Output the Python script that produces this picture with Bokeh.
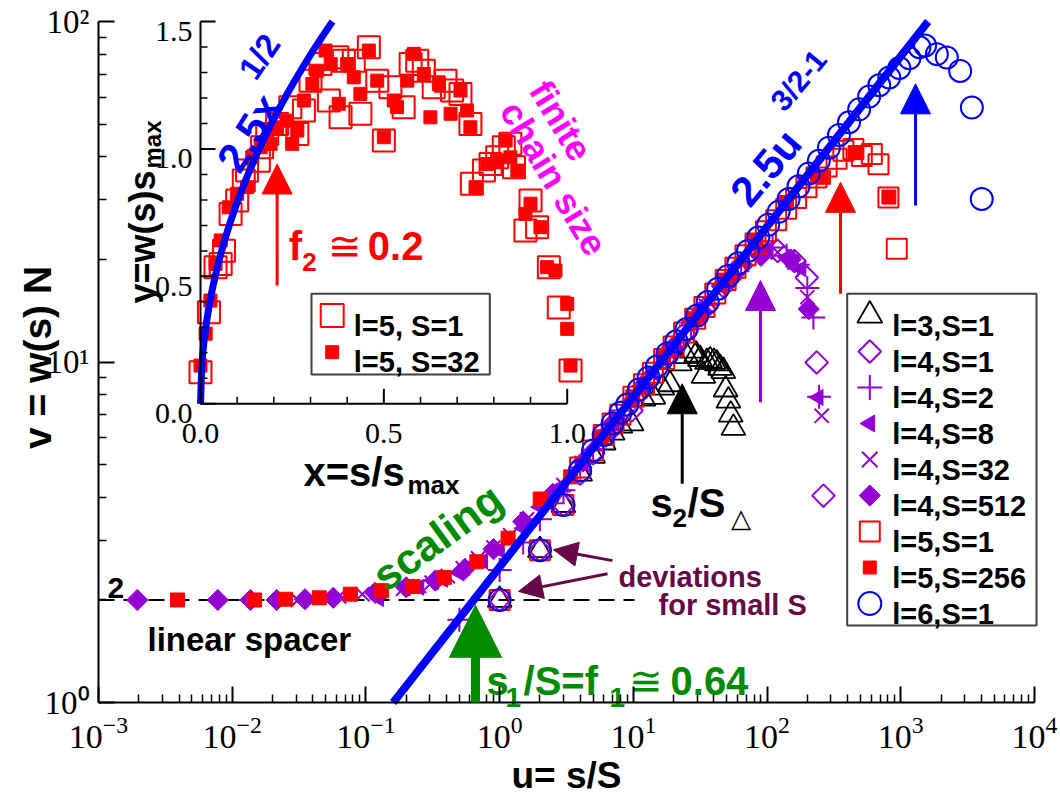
import numpy as np
from bokeh.plotting import figure
from bokeh.models import (Range1d, LinearScale, FixedTicker, Arrow, NormalHead)
from bokeh.core.properties import value
from bokeh.embed import file_html
from bokeh.resources import INLINE

# ---------------- main panel data: u = s/S , v = w(s) N ----------------
l3_s1_u = [1, 2, 3, 4, 5, 6, 7, 8, 9.7, 11.9, 14.1, 16.5, 18.8, 22.3, 25.0, 27.3, 29.5, 31.5, 33.4, 35.5,
           37.5, 40.0, 42.0, 44.5, 47.1, 49.0, 51.4, 53.5, 56.0]
l3_s1_v = [2.0, 2.8, 3.8, 4.7, 5.3, 5.8, 6.2, 6.5, 6.6, 7.8, 7.9, 8.4, 8.6, 9.9, 10.4, 10.8, 10.5, 10.2, 9.1, 10.0,
           10.1, 10.0, 9.9, 9.6, 9.4, 8.3, 7.7, 7.0, 6.4]

l4_s1_u = [1, 2, 3, 4, 5, 7, 9.7, 13, 18, 25, 34, 47, 64, 88, 120, 160, 198, 235, 264]
l4_s1_v = [2.0, 2.8, 3.8, 4.7, 5.4, 6.4, 7.2, 8.8, 10.4, 12.3, 14.3, 16.7, 19.2, 21.0, 21.2, 19.8, 17.7, 9.97, 4.05]

l4_s2_u = [0.5, 1.0, 1.5, 2.0, 2.5, 3.0, 4.0, 5.0, 6.5, 8.5, 11, 15, 20, 27, 36, 48, 64, 85, 110, 140,
           170, 200, 222, 245]
l4_s2_v = [1.75, 2.45, 2.95, 3.45, 3.85, 4.2, 4.9, 5.5, 6.3, 7.2, 8.2, 9.6, 11.1, 12.8, 14.7, 16.9, 19.3, 21.3, 21.7, 20.5,
           19.3, 16.5, 13.5, 7.9]

l4_s8_u = [0.125, 0.25, 0.375, 0.5, 0.75, 1.0, 1.5, 2.0, 3.0, 4.4, 6.5, 9.6, 14, 21, 31, 46, 68, 100, 140, 180, 242]
l4_s8_v = [2.02, 2.18, 2.3, 2.4, 2.6, 2.8, 3.25, 3.75, 4.35, 5.2, 6.3, 7.7, 9.3, 11.3, 13.7, 16.6, 19.8, 21.3, 20.3, 18.8, 7.87]

l4_s32_u = [0.031, 0.063, 0.094, 0.125, 0.19, 0.25, 0.31, 0.41, 0.53, 0.69, 0.9, 1.2, 1.6, 2.2, 3.0, 4.1, 5.6, 7.6, 10.3, 14,
            19, 26, 35, 48, 65, 88, 120, 160, 200, 256]
l4_s32_v = [2.0, 2.05, 2.08, 2.11, 2.16, 2.2, 2.25, 2.35, 2.48, 2.65, 2.85, 3.1, 3.45, 3.85, 4.35, 5.05, 5.9, 6.9, 8.0, 9.35,
            10.9, 12.7, 14.6, 16.9, 19.3, 21.2, 21.0, 19.6, 15.5, 6.95]

l4_s512_u = [0.00195, 0.0078, 0.0137, 0.0215, 0.035, 0.057, 0.117, 0.2, 0.33, 0.55, 0.9, 1.5, 2.5, 4.2, 7.0, 11.7,
             19.5, 32.5, 54, 90, 150, 205]
l4_s512_v = [2.0, 2.0, 2.0, 2.0, 2.01, 2.03, 2.1, 2.18, 2.28, 2.47, 2.82, 3.4, 4.1, 5.1, 6.6, 8.5,
             11.0, 14.1, 17.6, 20.5, 20.0, 14.3]

l5_s1_u = [1, 2, 3, 4, 5, 6, 7, 8, 10, 12, 14, 17, 20, 24, 29, 34, 41, 49, 58, 69,
           82, 98, 117, 139, 165, 197, 234, 279, 331, 372, 442, 511, 607, 681, 808, 933]
l5_s1_v = [2.0, 2.8, 3.8, 4.9, 5.5, 6.1, 6.6, 7.0, 7.9, 8.6, 9.3, 10.2, 11.1, 12.2, 13.4, 14.5, 15.9, 17.4, 18.9, 20.6,
           22.3, 24.2, 26.1, 28.2, 30.3, 32.6, 34.8, 37.5, 39.5, 41.7, 42.2, 40.3, 40.8, 38.1, 30.4, 21.5]

l5_s256_u = [0.0039, 0.0147, 0.0251, 0.0448, 0.0766, 0.131, 0.225, 0.385, 0.675, 1.156, 2.01, 3.4, 5.8, 9.9,
             16.8, 28.6, 48.6, 82.6, 140, 238, 264, 455, 815]
l5_s256_v = [2.0, 2.0, 2.01, 2.03, 2.08, 2.13, 2.19, 2.33, 2.59, 3.04, 3.96, 4.6, 6.0, 7.9,
             10.3, 13.4, 17.4, 22.6, 29.4, 35.0, 34.9, 41.2, 30.5]

l6_s1_u = [1, 2, 3, 4, 5, 6, 7, 8, 9, 11, 13, 15, 18, 21, 25, 30, 36, 43, 51, 61, 72, 86, 102, 122, 145, 172,
           205, 244, 290, 345, 410, 488, 580, 690, 820, 975, 1160, 1380, 1520, 1860, 2210, 2780, 3400, 4030]
l6_s1_v = [2.0, 2.8, 3.8, 4.8, 5.5, 6.1, 6.6, 7.1, 7.5, 8.3, 9.0, 9.7, 10.6, 11.5, 12.5, 13.7, 15.0, 16.4, 17.9,
           19.5, 21.2, 23.2, 25.3, 27.6, 30.1, 32.8, 35.8, 39.0, 42.6, 46.4, 50.6, 55.2, 60.2, 65.0, 68.5, 73.0,
           78.0, 84.0, 85.0, 80.2, 78.4, 71.6, 55.9, 30.1]

# ---------------- inset data: x = s/s_max , y = w(s) s_max ----------------
inset_l5_s1 = [(0.0, 0.124), (0.023, 0.359), (0.041, 0.536), (0.055, 0.549), (0.064, 0.601), (0.082, 0.745),
               (0.100, 0.798), (0.118, 0.876), (0.127, 0.915), (0.159, 0.954), (0.168, 1.007), (0.182, 1.059),
               (0.209, 1.098), (0.245, 1.164), (0.264, 1.059), (0.282, 1.151), (0.300, 1.268), (0.327, 1.333),
               (0.350, 1.190), (0.373, 1.360), (0.382, 1.124), (0.391, 1.346), (0.418, 1.346), (0.436, 1.138),
               (0.459, 1.399), (0.482, 1.268), (0.500, 1.033), (0.518, 1.242), (0.554, 1.164), (0.573, 1.333),
               (0.591, 1.346), (0.609, 1.307), (0.636, 1.242), (0.668, 1.268), (0.686, 1.229), (0.709, 1.216),
               (0.736, 1.098), (0.740, 0.863), (0.773, 0.915), (0.791, 0.941), (0.809, 0.967), (0.827, 1.007),
               (0.845, 1.020), (0.855, 0.928), (0.886, 0.680), (0.900, 0.798), (0.918, 0.693), (0.950, 0.536),
               (0.977, 0.378), (1.009, 0.131)]
inset_l5_s32 = [(0.0, 0.150), (0.014, 0.275), (0.027, 0.405), (0.041, 0.549), (0.055, 0.641), (0.077, 0.771),
                (0.100, 0.824), (0.127, 0.850), (0.141, 0.967), (0.164, 1.007), (0.191, 1.020), (0.209, 1.085),
                (0.236, 1.111), (0.250, 1.020), (0.264, 1.072), (0.282, 1.190), (0.305, 1.255), (0.318, 1.307),
                (0.341, 1.386), (0.355, 1.333), (0.377, 1.177), (0.400, 1.333), (0.418, 1.281), (0.436, 1.216),
                (0.459, 1.386), (0.482, 1.268), (0.500, 1.046), (0.527, 1.190), (0.536, 1.164), (0.564, 1.268),
                (0.582, 1.373), (0.609, 1.294), (0.627, 1.124), (0.650, 1.255), (0.682, 1.138), (0.709, 1.229),
                (0.727, 1.151), (0.736, 1.085), (0.750, 0.850), (0.782, 0.941), (0.809, 0.954), (0.832, 1.033),
                (0.845, 0.967), (0.864, 0.915), (0.886, 0.745), (0.900, 0.785), (0.927, 0.693), (0.945, 0.536),
                (0.968, 0.523), (1.000, 0.392), (1.000, 0.294), (1.009, 0.150)]
inset_s1_x = [a for a, b in inset_l5_s1]
inset_s1_y = [b for a, b in inset_l5_s1]
inset_s32_x = [a for a, b in inset_l5_s32]
inset_s32_y = [b for a, b in inset_l5_s32]

# ---------------- ticks ----------------
x_bounds = (1e-3, 1e4)
y_bounds = (1.0, 100.0)
x_major = [1e-3, 1e-2, 1e-1, 1.0, 1e1, 1e2, 1e3, 1e4]
x_minor = [k * 10.0 ** e for e in range(-3, 4) for k in range(2, 10)]
y_major = [1.0, 10.0, 100.0]
y_minor = [k * 10.0 ** e for e in range(0, 2) for k in range(2, 10)]
y_major_labels = ["10\u2070", "10\u00b9", "10\u00b2"]
inset_xlim = (0.0, 1.0)
inset_ylim = (0.0, 1.5)
inset_x_major = [0.0, 0.5, 1.0]
inset_x_minor = [0.1, 0.2, 0.3, 0.4, 0.6, 0.7, 0.8, 0.9]
inset_y_major = [0.0, 0.5, 1.0, 1.5]
inset_y_minor = [0.1, 0.2, 0.3, 0.4, 0.6, 0.7, 0.8, 0.9, 1.1, 1.2, 1.3, 1.4]
inset_x_labels = ["0.0", "0.5", "1.0"]
inset_y_labels = ["0.0", "0.5", "1.0", "1.5"]

# fitted power laws shown on the chart: 2.5 u^(1/2) and 2.5 x^(1/2)
fit_amp = 2.5
fit_u = np.logspace(np.log10((y_bounds[0] / fit_amp) ** 2), np.log10((y_bounds[1] / fit_amp) ** 2), 80)
fit_v = fit_amp * np.sqrt(fit_u)
fit_x = np.linspace(0.0, (inset_ylim[1] / fit_amp) ** 2, 120)
fit_y = fit_amp * np.sqrt(fit_x)

# legend entries
main_legend_labels = ["l=3,S=1", "l=4,S=1", "l=4,S=2", "l=4,S=8", "l=4,S=32", "l=4,S=512",
                      "l=5,S=1", "l=5,S=256", "l=6,S=1"]
inset_legend_labels = ["l=5, S=1", "l=5, S=32"]

# ---------------- styling / layout constants ----------------
BLACK = "black"
VIOLET = "#9400d3"
RED = "#ff0000"
BLUE = "#0000ff"
GREEN = "#008b00"
MAGENTA = "#ff00ff"
MAROON = "#670748"
SANS = "Liberation Sans"
SERIF = "Liberation Serif"

W, H = 1060, 792
# axis box inside the canvas (px from canvas left / top)
AX_L, AX_R, AX_T, AX_B = 98.0, 1034.0, 21.0, 702.0
DX = (AX_R - AX_L) / np.log10(x_bounds[1] / x_bounds[0])
DY = (AX_B - AX_T) / np.log10(y_bounds[1] / y_bounds[0])
x_range = Range1d(x_bounds[0] * 10 ** (-AX_L / DX), x_bounds[1] * 10 ** ((W - AX_R) / DX))
y_range = Range1d(y_bounds[0] * 10 ** (-(H - AX_B) / DY), y_bounds[1] * 10 ** (AX_T / DY))

p = figure(width=W, height=H, x_axis_type="log", y_axis_type="log",
           x_range=x_range, y_range=y_range, title=None,
           output_backend="svg", toolbar_location=None, min_border=0,
           min_border_left=0, min_border_right=0, min_border_top=0, min_border_bottom=0,
           background_fill_color="white", border_fill_color="white")
p.grid.visible = False
p.outline_line_color = None

p.xaxis.ticker = FixedTicker(ticks=x_major, minor_ticks=x_minor)
p.yaxis.ticker = FixedTicker(ticks=y_major, minor_ticks=y_minor)
p.xaxis.fixed_location = y_bounds[0]
p.yaxis.fixed_location = x_bounds[0]
p.xaxis.bounds = x_bounds
p.yaxis.bounds = y_bounds
p.yaxis.major_label_overrides = dict(zip(y_major, y_major_labels))
for ax in (p.xaxis[0], p.yaxis[0]):
    ax.axis_line_width = 2
    ax.axis_line_color = BLACK
    ax.major_tick_line_width = 2
    ax.minor_tick_line_width = 1.5
    ax.major_tick_in = 16
    ax.major_tick_out = 0
    ax.minor_tick_in = 8
    ax.minor_tick_out = 0
    ax.major_label_text_font = SERIF
    ax.major_label_text_color = BLACK
p.xaxis.major_label_text_font_size = "34px"
p.yaxis.major_label_text_font_size = "33px"
p.xaxis.major_label_standoff = 14
p.yaxis.major_label_standoff = 9

# inset coordinate system (px positions inside the canvas)
INSET_X0 = 200.0           # px from canvas left to inset x=0
INSET_Y0 = H - 403.3       # px from canvas bottom to inset y=0
INSET_PX_X = 366.7
INSET_PX_Y = (403.3 - 21.0) / 1.5
p.extra_x_ranges = {"ix": Range1d(-INSET_X0 / INSET_PX_X, (W - INSET_X0) / INSET_PX_X),
                    "lx": Range1d(0, W)}
p.extra_y_ranges = {"iy": Range1d(-INSET_Y0 / INSET_PX_Y, (H - INSET_Y0) / INSET_PX_Y),
                    "ly": Range1d(0, H)}
p.extra_x_scales = {"ix": LinearScale(), "lx": LinearScale()}
p.extra_y_scales = {"iy": LinearScale(), "ly": LinearScale()}
IN = dict(x_range_name="ix", y_range_name="iy")
LX = dict(x_range_name="lx", y_range_name="ly")   # canvas-pixel space for the legend boxes

# ---------------- main panel ----------------
SPACER_V = 2.0
SPACER_U = (x_bounds[0], 10.2)
p.line(list(SPACER_U), [SPACER_V, SPACER_V], line_color=BLACK, line_width=2, line_dash="16 9")

main_styles = [
    dict(marker="triangle", size=24, line_color=BLACK, line_width=1.8, fill_color=None),
    dict(marker="square", angle=np.pi / 4, size=16, line_color=VIOLET, line_width=2, fill_color=None),
    dict(marker="cross", size=24, line_color=VIOLET, line_width=2),
    dict(marker="triangle", angle=np.pi / 2, size=16, line_color=VIOLET, fill_color=VIOLET),
    dict(marker="x", size=20, line_color=VIOLET, line_width=2),
    dict(marker="square", angle=np.pi / 4, size=15, line_color=VIOLET, fill_color=VIOLET),
    dict(marker="square", size=20, line_color=RED, line_width=2, fill_color=None),
    dict(marker="square", size=14, line_color=RED, fill_color=RED),
    dict(marker="circle", size=22, line_color=BLUE, line_width=2, fill_color=None),
]
main_series = [(l3_s1_u, l3_s1_v), (l4_s1_u, l4_s1_v), (l4_s2_u, l4_s2_v), (l4_s8_u, l4_s8_v),
               (l4_s32_u, l4_s32_v), (l4_s512_u, l4_s512_v), (l5_s1_u, l5_s1_v), (l5_s256_u, l5_s256_v),
               (l6_s1_u, l6_s1_v)]
for i, ((u, v), st) in enumerate(zip(main_series, main_styles)):
    if i == 8:
        p.line(fit_u, fit_v, line_color=BLUE, line_width=8)
    p.scatter(u, v, **st)

# ---------------- inset ----------------
inset_styles = [dict(marker="square", size=22, line_color=RED, line_width=2, fill_color=None),
                dict(marker="square", size=13, line_color=RED, fill_color=RED)]
p.scatter(inset_s1_x, inset_s1_y, **inset_styles[0], **IN)
p.scatter(inset_s32_x, inset_s32_y, **inset_styles[1], **IN)
p.line(fit_x, fit_y, line_color=BLUE, line_width=7, **IN)

p.segment(x0=[inset_xlim[0], inset_xlim[0]], y0=[inset_ylim[0], inset_ylim[0]],
          x1=[inset_xlim[1], inset_xlim[0]], y1=[inset_ylim[0], inset_ylim[1]],
          line_color=BLACK, line_width=2, **IN)
p.ray(x=inset_x_major, y=[inset_ylim[0]] * len(inset_x_major), length=15, angle=np.pi / 2,
      length_units="screen", line_color=BLACK, line_width=2, **IN)
p.ray(x=inset_x_minor, y=[inset_ylim[0]] * len(inset_x_minor), length=7, angle=np.pi / 2,
      length_units="screen", line_color=BLACK, line_width=1.5, **IN)
p.ray(x=[inset_xlim[0]] * len(inset_y_major), y=inset_y_major, length=15, angle=0,
      length_units="screen", line_color=BLACK, line_width=2, **IN)
p.ray(x=[inset_xlim[0]] * len(inset_y_minor), y=inset_y_minor, length=7, angle=0,
      length_units="screen", line_color=BLACK, line_width=1.5, **IN)
p.text(x=inset_x_major, y=[inset_ylim[0]] * 3, text=inset_x_labels, text_font=value(SERIF),
       text_font_size=value("30px"), text_align="center", text_baseline="alphabetic",
       y_offset=30, text_color=BLACK, **IN)
p.text(x=[inset_xlim[0]] * 4, y=inset_y_major, text=inset_y_labels, text_font=value(SERIF),
       text_font_size=value("30px"), text_align="right", text_baseline="alphabetic",
       x_offset=-8, y_offset=10, text_color=BLACK, **IN)


def note(x, y, s, size, color=BLACK, style="bold", font=SANS, angle_deg=0.0, dx=0, dy=0,
         align="left", rng=None):
    kw = rng or {}
    p.text(x=[x], y=[y], text=[s], text_font=value(font), text_font_size=value(f"{size}px"),
           text_font_style=style, text_color=color, angle=np.deg2rad(angle_deg),
           x_offset=dx, y_offset=dy, text_align=align, text_baseline="alphabetic", **kw)


# main annotations
note(0.001167, 2.162, "2", 30)
note(0.002325, 1.528, "linear spacer", 33)
note(0.1221, 2.282, "scaling", 43, GREEN, angle_deg=36)
note(7.74, 2.344, "deviations", 29, MAROON)
note(15.42, 1.940, "for small S", 29, MAROON)
a_u, a_v = 0.7977, 1.160
note(a_u, a_v, "s", 40, GREEN)
note(a_u, a_v, "1", 28, GREEN, dx=19, dy=17)
note(a_u, a_v, "/S=f", 40, GREEN, dx=37)
note(a_u, a_v, "1", 28, GREEN, dx=123, dy=17)
note(a_u, a_v, "\u2245", 40, GREEN, style="normal", dx=142)
note(a_u, a_v, "0.64", 40, GREEN, dx=184)
b_u, b_v = 13.44, 3.841
note(b_u, b_v, "s", 40)
note(b_u, b_v, "2", 26, dx=22, dy=15)
note(b_u, b_v, "/S", 40, dx=37)
note(b_u, b_v, "\u25b3", 26, style="normal", dx=80, dy=15)
note(61.5, 29.95, "2.5u", 42, BLUE, angle_deg=50)
note(117.7, 56.3, "3/2-1", 30, BLUE, angle_deg=50)

# inset annotations
note(0.0736, 0.927, "2.5x", 42, BLUE, angle_deg=58, rng=IN)
note(0.1254, 1.288, "1/2", 33, BLUE, angle_deg=56, rng=IN)
c_x, c_y = 0.2408, 0.621
note(c_x, c_y, "f", 40, RED, rng=IN)
note(c_x, c_y, "2", 26, RED, dx=13.5, dy=16.7, rng=IN)
note(c_x, c_y, "\u2245", 40, RED, style="normal", dx=39, rng=IN)
note(c_x, c_y, "0.2", 40, RED, dx=79, rng=IN)
note(0.9225, 1.2554, "finite", 36, MAGENTA, angle_deg=-59, rng=IN)
note(0.8427, 1.1742, "chain size", 36, MAGENTA, angle_deg=-59, rng=IN)
d_x, d_y = 0.2809, -0.2695
note(d_x, d_y, "x=s/s", 40, rng=IN)
note(d_x, d_y, "max", 26, dx=104, dy=13, rng=IN)
note(-0.1582, 0.3935, "y=w(s)s", 36, angle_deg=90, rng=IN)
note(-0.1309, 0.9231, "max", 24, angle_deg=90, rng=IN)

# axis titles of the main panel
note(3.162, 0.6104, "u= s/S", 37, align="center")
note(3.50e-4, 10.31, "v = w(s) N", 39, angle_deg=90, align="center")

# ---------------- arrows ----------------
arrows_main = [
    # (u_start, v_start, u_end, v_end, colour, shaft width, head size)
    (23.2, 4.39, 23.2, 8.63, BLACK, 3, 30),
    (89.3, 7.62, 89.3, 17.35, VIOLET, 3, 30),
    (354.0, 15.86, 354.0, 33.7, RED, 3, 30),
    (1289.0, 28.8, 1289.0, 65.6, BLUE, 3, 30),
    (0.66, 1.0, 0.66, 1.93, GREEN, 9, 52),
    (6.98, 2.61, 2.53, 2.81, MAROON, 3, 24),
    (6.41, 2.39, 1.383, 2.12, MAROON, 3, 24),
]
for us, vs, ue, ve, col, lw, hs in arrows_main:
    p.add_layout(Arrow(end=NormalHead(size=hs, fill_color=col, line_color=col, line_width=1),
                       x_start=us, y_start=vs, x_end=ue, y_end=ve, line_color=col, line_width=lw))
p.add_layout(Arrow(end=NormalHead(size=30, fill_color=RED, line_color=RED, line_width=1),
                   x_start=0.209, y_start=0.464, x_end=0.209, y_end=0.941,
                   line_color=RED, line_width=3, **IN))

# ---------------- legends (drawn in canvas-pixel space) ----------------
MLEG = dict(left=846.7, right=1036.0, bottom=167.0, top=498.7, sym_x=869.3, txt_x=891.7, row0=477.0, pitch=36.0)
ILEG = dict(left=311.0, right=489.3, bottom=418.0, top=498.7, sym_x=331.7, txt_x=353.3, row0=477.0, pitch=36.7)
legend_sym_sizes = [25, 16, 25, 17, 22, 15, 20, 13, 23]
inset_legend_sym_sizes = [23, 13]


def draw_legend(box, labels, styles, sizes):
    p.quad(left=[box["left"]], right=[box["right"]], bottom=[box["bottom"]], top=[box["top"]],
           fill_color="white", line_color="#404040", line_width=2, **LX)
    for i, (lab, st, sz) in enumerate(zip(labels, styles, sizes)):
        yy = box["row0"] - i * box["pitch"]
        st2 = dict(st)
        st2["size"] = sz
        p.scatter([box["sym_x"]], [yy], **st2, **LX)
        p.text(x=[box["txt_x"]], y=[yy], text=[lab], text_font=value(SANS), text_font_size=value("29px"),
               text_font_style="bold", text_color=BLACK, text_baseline="alphabetic", text_align="left",
               y_offset=10, **LX)


draw_legend(MLEG, main_legend_labels, main_styles, legend_sym_sizes)
draw_legend(ILEG, inset_legend_labels, inset_styles, inset_legend_sym_sizes)

open("out.html", "w").write(file_html(p, INLINE))
